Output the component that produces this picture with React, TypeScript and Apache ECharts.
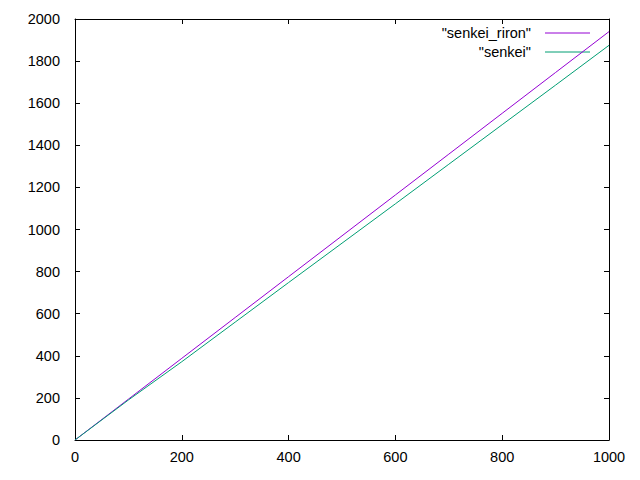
import React, { useEffect, useRef } from "react";
import * as echarts from "echarts";

const xValues = [0, 100, 200, 300, 400, 500, 600, 700, 800, 900, 1000];
const rironValues = [0, 194, 388, 582, 776, 970, 1164, 1358, 1552, 1746, 1940];
const senkeiValues = [0, 190, 372, 560, 748, 935, 1122, 1310, 1498, 1686, 1875];
const seriesNames = ['"senkei_riron"', '"senkei"'];
const seriesColors = ["#9400D3", "#009E73"];

const FONT = "Liberation Sans, Arial, sans-serif";
const FS = 14.5;

export default function App() {
  const ref = useRef<HTMLDivElement>(null);
  useEffect(() => {
    if (!ref.current) return;
    const chart = echarts.init(ref.current, undefined, { renderer: "svg" });
    const gridLeft = 75, gridRight = 31, gridTop = 19, gridBottom = 40;
    const axisCommon = {
      type: "value" as const,
      splitLine: { show: false },
      axisLine: { show: true, onZero: false, lineStyle: { color: "#000", width: 1 } },
      axisTick: { show: true, inside: true, length: 5, lineStyle: { color: "#000", width: 1 } },
    };
    const fmt = (v: number) => String(v);
    const legendGraphics: any[] = [];
    seriesNames.forEach((name, i) => {
      const y = 33 + i * 19;
      legendGraphics.push({
        type: "text",
        x: 531,
        y,
        style: {
          text: name,
          fill: "#000",
          font: `${FS}px ${FONT}`,
          align: "right",
          verticalAlign: "middle",
        },
      });
      legendGraphics.push({
        type: "line",
        shape: { x1: 545, y1: y, x2: 590, y2: y },
        style: { stroke: seriesColors[i], lineWidth: 1 },
      });
    });
    chart.setOption({
      animation: false,
      backgroundColor: "#fff",
      grid: { left: gridLeft, right: gridRight, top: gridTop, bottom: gridBottom },
      xAxis: [
        {
          ...axisCommon,
          position: "bottom",
          min: 0,
          max: 1000,
          interval: 200,
          axisLabel: { color: "#000", fontSize: FS, fontFamily: FONT, margin: 9, formatter: fmt },
        },
        {
          ...axisCommon,
          position: "top",
          min: 0,
          max: 1000,
          interval: 200,
          axisLabel: { show: false },
        },
      ],
      yAxis: [
        {
          ...axisCommon,
          position: "left",
          min: 0,
          max: 2000,
          interval: 200,
          axisLabel: { color: "#000", fontSize: FS, fontFamily: FONT, margin: 15, formatter: fmt },
        },
        {
          ...axisCommon,
          position: "right",
          min: 0,
          max: 2000,
          interval: 200,
          axisLabel: { show: false },
        },
      ],
      series: [
        {
          name: seriesNames[0],
          type: "line",
          data: xValues.map((x, i) => [x, rironValues[i]]),
          showSymbol: false,
          lineStyle: { color: seriesColors[0], width: 1 },
          itemStyle: { color: seriesColors[0] },
        },
        {
          name: seriesNames[1],
          type: "line",
          data: xValues.map((x, i) => [x, senkeiValues[i]]),
          showSymbol: false,
          lineStyle: { color: seriesColors[1], width: 1 },
          itemStyle: { color: seriesColors[1] },
        },
      ],
      graphic: legendGraphics,
    });
    return () => chart.dispose();
  }, []);
  return <div ref={ref} style={{ width: 640, height: 480, position: "absolute", left: 0, top: 0 }} />;
}
